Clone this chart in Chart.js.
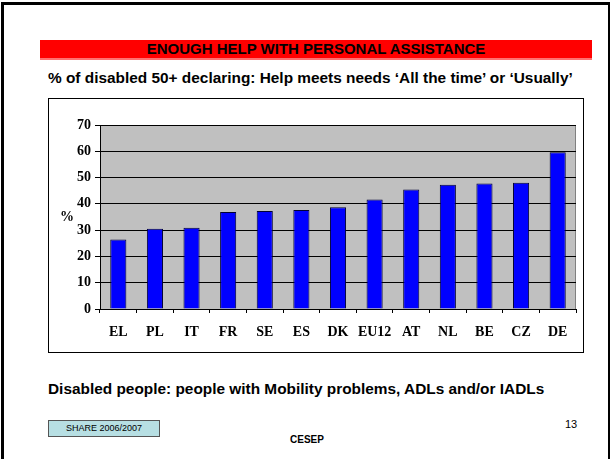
<!DOCTYPE html>
<html>
<head>
<meta charset="utf-8">
<script src="https://cdn.jsdelivr.net/npm/chart.js@4/dist/chart.umd.min.js"></script>
<style>
  body { margin: 0; background: #fff; }
  #slide {
    position: relative; width: 610px; height: 459px; overflow: hidden;
    font-family: "Liberation Sans", Arial, sans-serif; color: #000;
  }
  #frame {
    position: absolute; left: 1px; top: 2px; width: 604px; height: 470px;
    border: 3px solid #000;
  }
  #banner {
    position: absolute; left: 40px; top: 40px; width: 552px; height: 18px;
    background: #ff0000; border-bottom: 2px solid #ff7070;
    font-weight: bold; font-size: 15px; line-height: 18px; text-align: center;
  }
  #subtitle {
    position: absolute; left: 48px; top: 69px; font-weight: bold; font-size: 15.4px;
  }
  #box {
    position: absolute; left: 48px; top: 98px; width: 534px; height: 253px;
    border: 1px solid #000; background: #fff;
  }
  #note {
    position: absolute; left: 48px; top: 380px; font-weight: bold; font-size: 15.4px;
  }
  #share {
    position: absolute; left: 48px; top: 420px; width: 110px; height: 15px;
    background: #b7dfe3; border: 1px solid #555;
    font-size: 9px; line-height: 15px; text-align: center;
  }
  #cesep {
    position: absolute; left: 290px; top: 434px; font-weight: bold; font-size: 10px;
  }
  #page {
    position: absolute; left: 565px; top: 418px; font-size: 11px;
  }
</style>
</head>
<body>
<div id="slide">
  <div id="frame"></div>
  <div id="banner">ENOUGH HELP WITH PERSONAL ASSISTANCE</div>
  <div id="subtitle">% of disabled 50+ declaring: Help meets needs ‘All the time’ or ‘Usually’</div>
  <div id="box"><canvas id="chart" width="534" height="253"></canvas></div>
  <div id="note">Disabled people: people with Mobility problems, ADLs and/or IADLs</div>
  <div id="share">SHARE 2006/2007</div>
  <div id="cesep">CESEP</div>
  <div id="page">13</div>
</div>
<script>
const countries = ["EL", "PL", "IT", "FR", "SE", "ES", "DK", "EU12", "AT", "NL", "BE", "CZ", "DE"];
const helpShare = [26.4, 30.5, 30.9, 36.9, 37.3, 37.7, 38.7, 41.7, 45.5, 47.3, 47.7, 48.0, 59.6];
const yTicks = [0, 10, 20, 30, 40, 50, 60, 70];
const yUnit = "%";

const tickFont = { family: "Liberation Serif", size: 14, weight: "bold" };

// grey plot area like the old Excel chart, plus the horizontal "%" label
const plotBg = {
  id: "plotBg",
  beforeDraw(chart) {
    const { ctx, chartArea: a } = chart;
    ctx.save();
    ctx.fillStyle = "#c0c0c0";
    ctx.fillRect(a.left, a.top, a.right - a.left, a.bottom - a.top);
    ctx.strokeStyle = "#808080";
    ctx.lineWidth = 1;
    ctx.strokeRect(a.left + 0.5, a.top + 0.5, a.right - a.left - 1, a.bottom - a.top);
    ctx.restore();
  },
  afterDraw(chart) {
    const { ctx } = chart;
    const y = chart.scales.y;
    ctx.save();
    ctx.fillStyle = "#000";
    ctx.font = "bold 14px 'Liberation Serif'";
    ctx.textAlign = "center";
    ctx.textBaseline = "middle";
    ctx.fillText(yUnit, 18, y.getPixelForValue(35));
    ctx.restore();
  }
};

new Chart(document.getElementById("chart"), {
  type: "bar",
  data: {
    labels: countries,
    datasets: [{
      data: helpShare,
      backgroundColor: "#0000ff",
      borderColor: "#000033",
      borderWidth: 1,
      barPercentage: 0.44,
      categoryPercentage: 1
    }]
  },
  options: {
    responsive: false,
    animation: false,
    layout: { padding: { top: 26, right: 7, left: 0, bottom: 0 } },
    plugins: { legend: { display: false }, tooltip: { enabled: false } },
    scales: {
      x: {
        afterFit: s => { s.height = 43; },
        grid: { drawOnChartArea: false, drawTicks: true, tickLength: 4, color: "#000", offset: true },
        border: { color: "#000" },
        ticks: { color: "#000", font: tickFont, padding: 11, maxRotation: 0, minRotation: 0, autoSkip: false }
      },
      y: {
        min: 0,
        max: 70,
        afterFit: s => { s.width = 51; },
        afterBuildTicks: s => { s.ticks = yTicks.map(v => ({ value: v })); },
        grid: { color: "#000", tickLength: 5 },
        border: { color: "#000" },
        ticks: { color: "#000", font: tickFont, padding: 4 }
      }
    }
  },
  plugins: [plotBg]
});
</script>
</body>
</html>
